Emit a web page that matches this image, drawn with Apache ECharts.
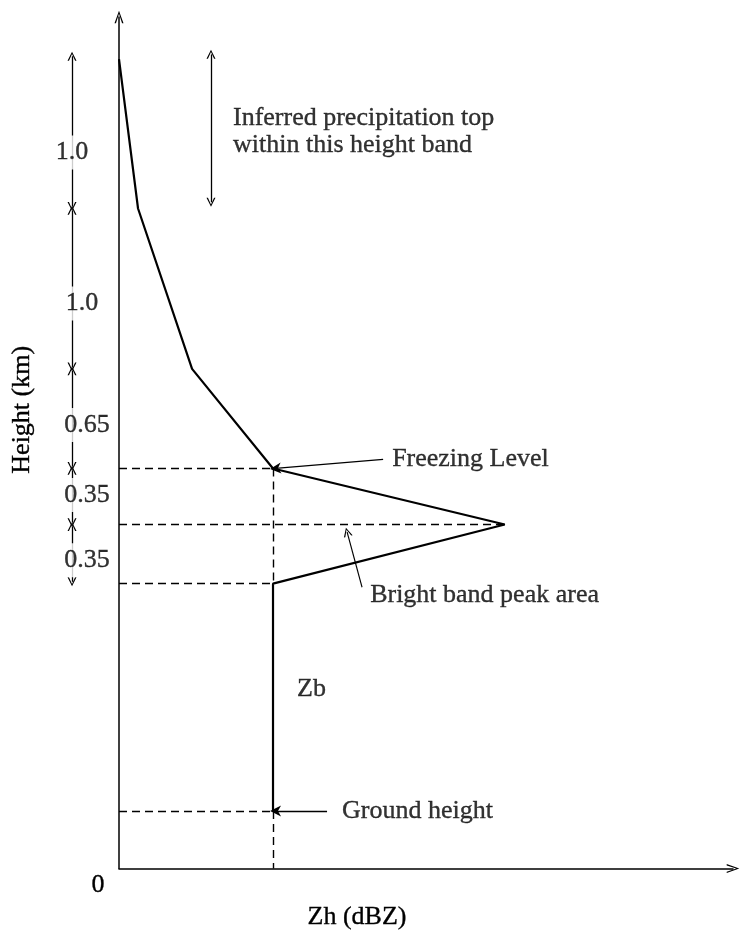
<!DOCTYPE html>
<html>
<head>
<meta charset="utf-8">
<script src="https://cdn.jsdelivr.net/npm/echarts@6/dist/echarts.min.js"></script>
<style>
  html, body { margin: 0; padding: 0; background: #fff; }
  #chart { width: 740px; height: 935px; }
</style>
</head>
<body>
<div id="chart"></div>
<script>
// ---------------- data (Zh in arbitrary dBZ units, height in km) ----------------
const profileZh     = [0.0, 1.86, 7.14, 15.05, 37.7, 15.05, 15.05];
const profileHeight = [5.20, 4.24, 3.21, 2.57, 2.21, 1.83, 0.37];

// height-band boundaries marked by the double arrows on the left (km)
const bandLevels = [5.23, 4.24, 3.21, 2.57, 2.21, 1.83];
const bandLabels = ['1.0', '1.0', '0.65', '0.35', '0.35'];
const bandLabelHeights = [4.60, 3.63, 2.85, 2.40, 1.98];

// dashed guide levels: height and the Zh value where each guide stops
const guideHeight = [2.57, 2.21, 1.83, 0.37];
const guideZhEnd  = [15.05, 37.7, 15.05, 15.05];
const zbColumnZh  = 15.05;
const freezingLevel = 2.57;
const brightBandBottom = 1.83;
const groundHeight = 0.37;

// inferred precipitation-top band (km)
const topBand = [5.23, 4.28];

// annotation texts
const topBandText   = 'Inferred precipitation top\nwithin this height band';
const freezingText  = 'Freezing Level';
const brightText    = 'Bright band peak area';
const zbText        = 'Zb';
const groundText    = 'Ground height';
const xAxisName     = 'Zh (dBZ)';
const yAxisName     = 'Height (km)';

// ---------------- chart ----------------
const FONT = "'Liberation Serif', 'Times New Roman', serif";
const INK = '#000';
const chevron = 'path://M5,0 L10,14 L8.4,14 L5,3.4 L1.6,14 L0,14 Z';
const pointer = 'path://M5,0 L10,14 L5,10 L0,14 Z';

const xMin = 0, xMax = 60, yMin = 0, yMax = 5.47;
const bandX = -4.59;   // Zh position of the left height-band arrows
const topBandX = 8.99;

const profileData = profileZh.map((z, i) => [z, profileHeight[i]]);

const guides = guideHeight.map((h, i) => ({ coords: [[xMin, h], [guideZhEnd[i], h]] }));
guides.push({ coords: [[zbColumnZh, freezingLevel], [zbColumnZh, brightBandBottom]] });
guides.push({ coords: [[zbColumnZh, groundHeight], [zbColumnZh, yMin]] });

const bandArrows = [];
for (let i = 0; i < bandLabels.length; i++) {
  bandArrows.push({ coords: [[bandX, bandLevels[i] - 0.012], [bandX, bandLevels[i + 1] + 0.012]] });
}
bandArrows.push({ coords: [[topBandX, topBand[0]], [topBandX, topBand[1]]] });

const pointers = [
  { coords: [[25.81, 2.629], [15.3, freezingLevel]] },
  { coords: [[20.33, groundHeight], [15.3, groundHeight]] }
];
const thinPointers = [
  { coords: [[23.75, 1.807], [22.29, 2.162]] }
];

const textStyle = {
  fontFamily: FONT, fontSize: 26, color: '#000',
  textBorderColor: '#000', textBorderWidth: 0.35
};
const labelOffsets = [0, 10, 15, 15, 15];
const bandLabelData = bandLabels.map((t, i) => ({
  value: [bandX, bandLabelHeights[i]],
  label: {
    formatter: t, align: 'center', offset: [labelOffsets[i], 0],
    backgroundColor: '#fff', padding: [4, 1, 4, 1]
  }
}));

const annotationData = [
  { value: [11.14, 4.735], label: { formatter: topBandText, align: 'left', lineHeight: 27 } },
  { value: [26.69, 2.629], label: { formatter: freezingText, align: 'left' } },
  { value: [24.54, 1.757], label: { formatter: brightText, align: 'left' } },
  { value: [17.4, 1.153],  label: { formatter: zbText, align: 'left' } },
  { value: [21.8, groundHeight], label: { formatter: groundText, align: 'left' } }
].concat(bandLabelData);

const chart = echarts.init(document.getElementById('chart'), null, { renderer: 'canvas' });
chart.setOption({
  animation: false,
  backgroundColor: '#fff',
  grid: { left: 119, right: 7, top: 17, bottom: 40 },
  xAxis: {
    type: 'value', min: xMin, max: xMax, interval: 60,
    name: xAxisName, nameLocation: 'middle', nameGap: 20,
    nameTextStyle: Object.assign({}, textStyle, { padding: [0, 138, 0, 0], verticalAlign: 'top' }),
    axisLine: { show: true, symbol: ['none', chevron], symbolSize: [9, 13], lineStyle: { color: INK, width: 1.5 } },
    axisTick: { show: false },
    splitLine: { show: false },
    axisLabel: Object.assign({
      formatter: v => (v === 0 ? '0' : ''),
      margin: 4, padding: [0, 42, 0, 0]
    }, textStyle)
  },
  yAxis: {
    type: 'value', min: yMin, max: yMax,
    name: yAxisName, nameLocation: 'middle', nameGap: 84, nameRotate: 90,
    nameTextStyle: Object.assign({}, textStyle, { padding: [0, 0, 0, 66] }),
    axisLine: { show: true, symbol: ['none', chevron], symbolSize: [9, 13], lineStyle: { color: INK, width: 1.5 } },
    axisTick: { show: false },
    splitLine: { show: false },
    axisLabel: { show: false }
  },
  series: [
    {
      name: 'guides', type: 'lines', coordinateSystem: 'cartesian2d', clip: false,
      data: guides, symbol: 'none',
      lineStyle: { color: INK, width: 1.4, type: [8, 5], opacity: 1 },
      silent: true, z: 2
    },
    {
      name: 'profile', type: 'line', data: profileData, symbol: 'none', clip: false,
      lineStyle: { color: INK, width: 2.2 }, z: 5
    },
    {
      name: 'bandArrows', type: 'lines', coordinateSystem: 'cartesian2d', clip: false,
      data: bandArrows, symbol: [chevron, chevron], symbolSize: 9,
      lineStyle: { color: INK, width: 1.3, opacity: 1 }, silent: true, z: 3
    },
    {
      name: 'pointers', type: 'lines', coordinateSystem: 'cartesian2d', clip: false,
      data: pointers, symbol: ['none', pointer], symbolSize: 11,
      lineStyle: { color: INK, width: 1.3, opacity: 1 }, silent: true, z: 3
    },
    {
      name: 'thinPointers', type: 'lines', coordinateSystem: 'cartesian2d', clip: false,
      data: thinPointers, symbol: ['none', chevron], symbolSize: 9,
      lineStyle: { color: INK, width: 1.1, opacity: 1 }, silent: true, z: 3
    },
    {
      name: 'annotations', type: 'scatter', data: annotationData, clip: false,
      symbolSize: 0, silent: true, z: 10,
      label: Object.assign({ show: true, position: 'inside', verticalAlign: 'middle' }, textStyle)
    }
  ]
});
</script>
</body>
</html>
